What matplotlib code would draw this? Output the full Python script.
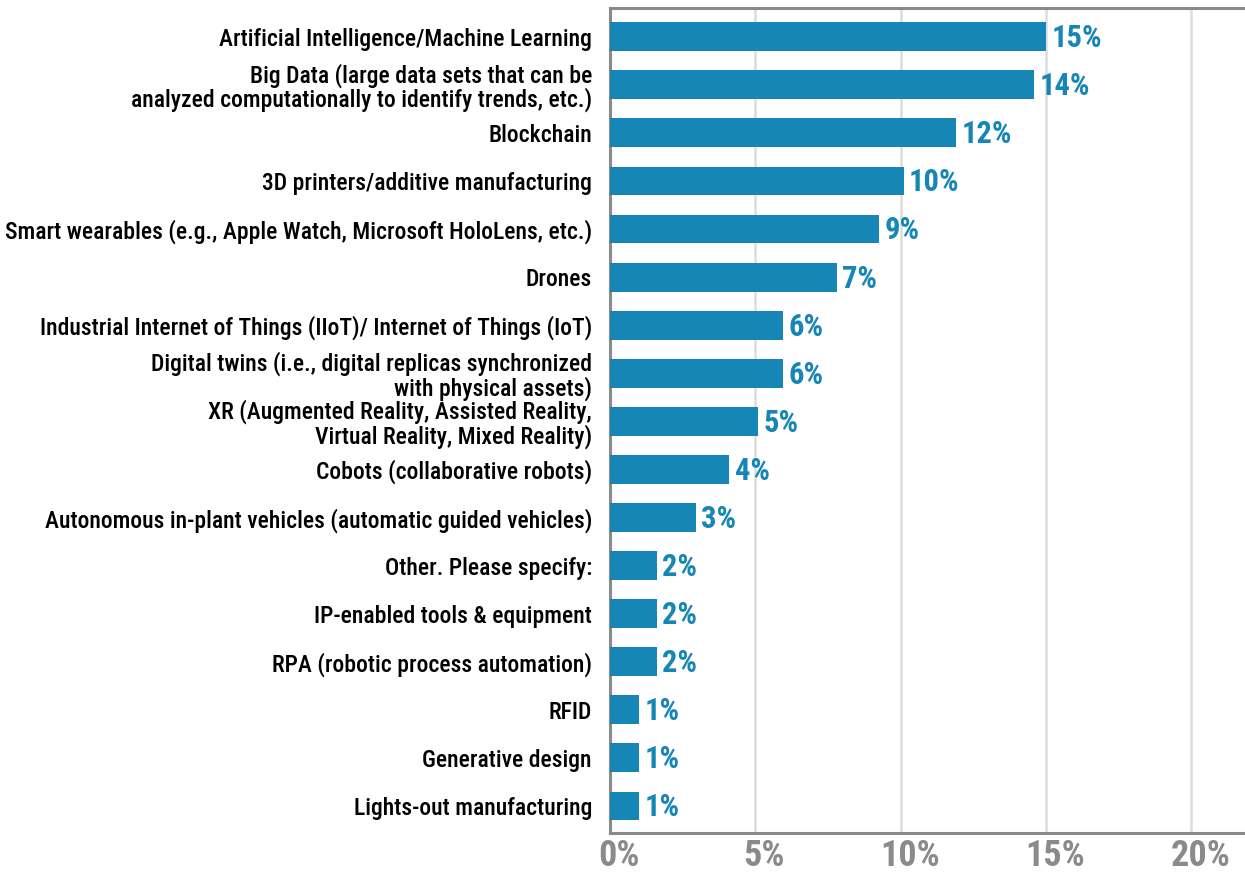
import matplotlib.pyplot as plt
import matplotlib.transforms as mtransforms
import numpy as np

categories = [
    "Artificial Intelligence/Machine Learning",
    "Big Data (large data sets that can be\nanalyzed computationally to identify trends, etc.)",
    "Blockchain",
    "3D printers/additive manufacturing",
    "Smart wearables (e.g., Apple Watch, Microsoft HoloLens, etc.)",
    "Drones",
    "Industrial Internet of Things (IIoT)/ Internet of Things (IoT)",
    "Digital twins (i.e., digital replicas synchronized\nwith physical assets)",
    "XR (Augmented Reality, Assisted Reality,\nVirtual Reality, Mixed Reality)",
    "Cobots (collaborative robots)",
    "Autonomous in-plant vehicles (automatic guided vehicles)",
    "Other. Please specify:",
    "IP-enabled tools & equipment",
    "RPA (robotic process automation)",
    "RFID",
    "Generative design",
    "Lights-out manufacturing",
]
values = [15.0, 14.6, 11.9, 10.1, 9.25, 7.8, 5.95, 5.95, 5.1, 4.1, 2.95,
          1.6, 1.6, 1.6, 1.0, 1.0, 1.0]
value_labels = ["15%", "14%", "12%", "10%", "9%", "7%", "6%", "6%", "5%",
                "4%", "3%", "2%", "2%", "2%", "1%", "1%", "1%"]
x_ticks = [0, 5, 10, 15, 20]
x_tick_labels = ["0%", "5%", "10%", "15%", "20%"]

bar_color = "#1586b5"
axis_gray = "#8a8a8c"

plt.rcParams["font.family"] = ["Roboto Condensed", "DejaVu Sans"]

fig = plt.figure(figsize=(12.45, 8.74), dpi=100)
ax = fig.add_axes([0.49, 0.047, 0.51, 0.944])

y = np.arange(len(categories))
ax.barh(y, values, height=0.6, color=bar_color, zorder=3)

# value labels just right of each bar
for yi, v, lab in zip(y, values, value_labels):
    ax.annotate(lab, xy=(v, yi), xytext=(4, -1), textcoords="offset points",
                ha="left", va="center", fontsize=22, fontweight="bold",
                color=bar_color)

ax.set_ylim(len(categories) - 1 + 0.56, -0.6)
ax.set_xlim(0, 21.85)

ax.set_yticks(y)
ax.set_yticklabels(categories, fontsize=17, fontweight="medium", color="black",
                   linespacing=1.0)
ax.tick_params(axis="y", length=0, pad=13)

ax.set_xticks(x_ticks)
ax.set_xticklabels(x_tick_labels, fontsize=26, fontweight="bold", color=axis_gray)
ax.tick_params(axis="x", length=0, pad=4)
offset = mtransforms.ScaledTranslation(9 / 100, 0, fig.dpi_scale_trans)
for lbl in ax.get_xticklabels():
    lbl.set_transform(lbl.get_transform() + offset)

ax.grid(axis="x", color="#dddddd", linewidth=1.8, zorder=0)
ax.set_axisbelow(True)

for side in ["left", "top", "bottom"]:
    ax.spines[side].set_color(axis_gray)
    ax.spines[side].set_linewidth(2.2)
ax.spines["right"].set_visible(False)

plt.savefig("out.png", dpi=100)
